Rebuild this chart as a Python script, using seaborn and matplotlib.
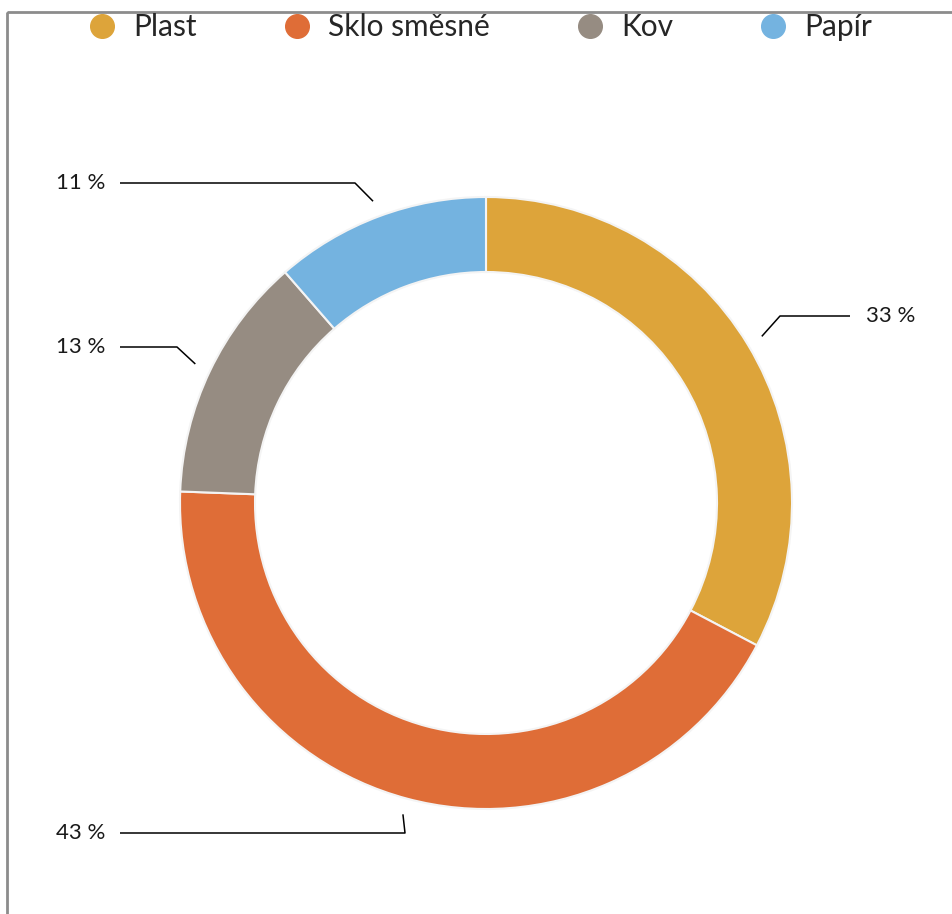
import numpy as np
import matplotlib
matplotlib.use("Agg")
import matplotlib.pyplot as plt
from matplotlib.lines import Line2D
from matplotlib.patches import Rectangle
import seaborn as sns

# data
categories = ["Plast", "Sklo směsné", "Kov", "Papír"]
shares = [32.7, 42.9, 13.0, 11.4]
colors = ["#DDA43A", "#DF6D37", "#968C82", "#74B3E0"]
# elbow / label placement for each leader line (pixel coords, layout only)
elbows = [(780, 316), (405, 833), (177, 347), (355, 183)]
label_x = [866, 105, 105, 105]

sns.set_theme(style="white")
plt.rcParams["font.family"] = ["Lato", "DejaVu Sans"]

W, H = 952, 914
fig = plt.figure(figsize=(W / 100, H / 100), dpi=100)
ax = fig.add_axes([0, 0, 1, 1])

cx, cy, r_out = 486, 503, 306
ring = 75

# y axis is flipped below, so counterclock=True reads clockwise on screen
wedges, _ = ax.pie(shares, colors=colors, startangle=-90, counterclock=True,
                   center=(cx, cy), radius=r_out, frame=True,
                   wedgeprops=dict(width=ring, edgecolor="#f4f4f4", linewidth=1.5))
ax.set_xlim(0, W)
ax.set_ylim(H, 0)
ax.set_aspect("equal")
ax.axis("off")

# leader lines + labels
cum = np.cumsum([0] + shares)
for i, s in enumerate(shares):
    mid = (cum[i] + cum[i + 1]) / 2 / 100 * 2 * np.pi  # clockwise from top
    px = cx + np.sin(mid) * r_out * 1.053
    py = cy - np.cos(mid) * r_out * 1.053
    ex, ey = elbows[i]
    tx = label_x[i]
    right = tx > cx
    xs = [px, ex, tx - 16 if right else tx + 15]
    ax.plot(xs, [py, ey, ey], color="black", lw=1.1, solid_capstyle="butt")
    ax.text(tx, ey, f"{round(s):.0f} %", fontsize=16,
            ha="left" if right else "right", va="center", color="#1a1a1a")

# chart border (top and left visible)
ax.add_patch(Rectangle((7, 12), W + 20, H + 20, fill=False, edgecolor="#8c8c8c", lw=2))

handles = [Line2D([0], [0], marker="o", linestyle="", markersize=17,
                  markerfacecolor=c, markeredgecolor=c) for c in colors]
leg = ax.legend(handles, categories, loc="center left", bbox_to_anchor=(72 / W, 1 - 27 / H),
                ncol=4, frameon=False, fontsize=21.5, handletextpad=0.45,
                columnspacing=2.75, borderaxespad=0, handlelength=1.2)

fig.savefig("out.png", dpi=100)
